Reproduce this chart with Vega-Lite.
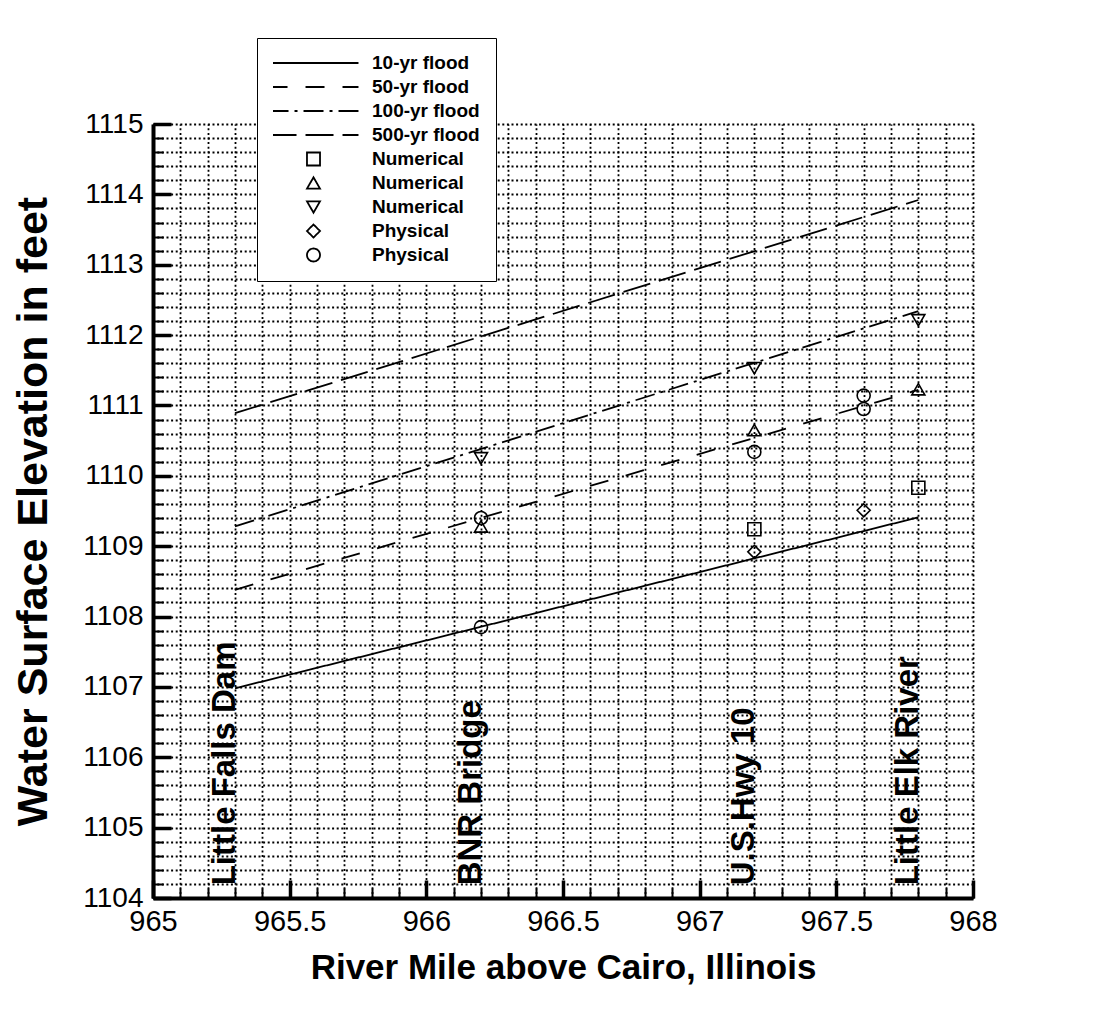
{
  "$schema": "https://vega.github.io/schema/vega-lite/v6.json",
  "width": 820,
  "height": 774,
  "autosize": {"type": "none"},
  "padding": {"left": 153, "top": 124, "right": 121, "bottom": 112},
  "background": "white",
  "config": {
    "view": {"stroke": null},
    "font": "Liberation Sans",
    "axis": {
      "labelFont": "Liberation Sans",
      "titleFont": "Liberation Sans",
      "labelColor": "black",
      "titleColor": "black",
      "tickColor": "black",
      "domainColor": "black",
      "labelFlush": false,
      "labelOverlap": false
    },
    "legend": {
      "orient": "none",
      "title": null,
      "strokeColor": "black",
      "fillColor": "white",
      "padding": 16,
      "labelFont": "Liberation Sans",
      "labelFontSize": 19,
      "labelFontWeight": "bold",
      "labelColor": "black",
      "symbolSize": 170,
      "symbolStrokeColor": "black",
      "symbolFillColor": "white",
      "symbolStrokeWidth": 1.8,
      "symbolOffset": 31,
      "labelOffset": 49,
      "clipHeight": 18,
      "rowPadding": 6
    }
  },
  "datasets": {
    "lines": [
      {"series": "10-yr flood", "mile": 965.3, "elev": 1106.98},
      {"series": "10-yr flood", "mile": 967.8, "elev": 1109.41},
      {"series": "50-yr flood", "mile": 965.3, "elev": 1108.38},
      {"series": "50-yr flood", "mile": 967.8, "elev": 1111.22},
      {"series": "100-yr flood", "mile": 965.3, "elev": 1109.28},
      {"series": "100-yr flood", "mile": 967.8, "elev": 1112.34},
      {"series": "500-yr flood", "mile": 965.3, "elev": 1110.89},
      {"series": "500-yr flood", "mile": 967.8, "elev": 1113.92}
    ],
    "points": [
      {"series": "Numerical|1", "mile": 967.2, "elev": 1109.24},
      {"series": "Numerical|1", "mile": 967.8, "elev": 1109.83},
      {"series": "Numerical|2", "mile": 966.2, "elev": 1109.28},
      {"series": "Numerical|2", "mile": 967.2, "elev": 1110.65},
      {"series": "Numerical|2", "mile": 967.8, "elev": 1111.23},
      {"series": "Numerical|3", "mile": 966.2, "elev": 1110.25},
      {"series": "Numerical|3", "mile": 967.2, "elev": 1111.53},
      {"series": "Numerical|3", "mile": 967.8, "elev": 1112.21},
      {"series": "Physical|1", "mile": 967.2, "elev": 1108.92},
      {"series": "Physical|1", "mile": 967.6, "elev": 1109.51},
      {"series": "Physical|2", "mile": 966.2, "elev": 1107.85},
      {"series": "Physical|2", "mile": 966.2, "elev": 1109.4},
      {"series": "Physical|2", "mile": 967.2, "elev": 1110.34},
      {"series": "Physical|2", "mile": 967.6, "elev": 1111.14},
      {"series": "Physical|2", "mile": 967.6, "elev": 1110.95}
    ],
    "sites": [
      {"site": "Little Falls Dam", "mile": 965.3, "elev": 1104.18},
      {"site": "BNR Bridge", "mile": 966.2, "elev": 1104.18},
      {"site": "U.S.Hwy 10", "mile": 967.2, "elev": 1104.18},
      {"site": "Little Elk River", "mile": 967.8, "elev": 1104.18}
    ]
  },
  "resolve": {"axis": {"x": "independent", "y": "independent"}},
  "layer": [
    {
      "data": {"name": "points"},
      "mark": {"type": "point", "filled": false, "color": "black", "strokeWidth": 1.6, "size": 170, "opacity": 1},
      "encoding": {
        "x": {
          "field": "mile", "type": "quantitative",
          "scale": {"domain": [965, 968], "nice": false, "zero": false},
          "axis": {
            "orient": "top", "offset": -774, "title": null, "labels": false, "domain": false,
            "ticks": true, "tickSize": 10, "tickWidth": 2,
            "grid": true, "gridColor": "black", "gridDash": [2, 2.6], "gridWidth": 1.8, "gridOpacity": 1,
            "values": [965,965.1,965.2,965.3,965.4,965.5,965.6,965.7,965.8,965.9,966,966.1,966.2,966.3,966.4,966.5,966.6,966.7,966.8,966.9,967,967.1,967.2,967.3,967.4,967.5,967.6,967.7,967.8,967.9,968]
          }
        },
        "y": {
          "field": "elev", "type": "quantitative",
          "scale": {"domain": [1104, 1115], "nice": false, "zero": false},
          "axis": {
            "orient": "right", "offset": -820, "title": null, "labels": false, "domain": false,
            "ticks": true, "tickSize": 10, "tickWidth": 2,
            "grid": true, "gridColor": "black", "gridDash": [2, 2.6], "gridWidth": 1.8, "gridOpacity": 1,
            "values": [1104,1104.2,1104.4,1104.6,1104.8,1105,1105.2,1105.4,1105.6,1105.8,1106,1106.2,1106.4,1106.6,1106.8,1107,1107.2,1107.4,1107.6,1107.8,1108,1108.2,1108.4,1108.6,1108.8,1109,1109.2,1109.4,1109.6,1109.8,1110,1110.2,1110.4,1110.6,1110.8,1111,1111.2,1111.4,1111.6,1111.8,1112,1112.2,1112.4,1112.6,1112.8,1113,1113.2,1113.4,1113.6,1113.8,1114,1114.2,1114.4,1114.6,1114.8,1115]
          }
        },
        "shape": {
          "field": "series", "type": "nominal",
          "scale": {
            "domain": ["10-yr flood", "50-yr flood", "100-yr flood", "500-yr flood", "Numerical|1", "Numerical|2", "Numerical|3", "Physical|1", "Physical|2"],
            "range": ["M-6.9,0H6.9", "M-6.9,0H6.9", "M-6.9,0H6.9", "M-6.9,0H6.9", "square", "triangle-up", "triangle-down", "diamond", "circle"]
          },
          "legend": {"orient": "none", "legendX": 104, "legendY": -86, "rowPadding": 5, "labelExpr": "split(datum.label, '|')[0]"}
        }
      }
    },
    {
      "data": {"name": "lines"},
      "mark": {"type": "line", "color": "black", "strokeWidth": 1.8},
      "encoding": {
        "x": {
          "field": "mile", "type": "quantitative",
          "scale": {"domain": [965, 968], "nice": false, "zero": false},
          "axis": {
            "orient": "bottom", "values": [965, 965.5, 966, 966.5, 967, 967.5, 968],
            "format": "~g", "grid": false, "ticks": false,
            "domainWidth": 4,
            "labelFontSize": 29, "labelPadding": 9,
            "title": "River Mile above Cairo, Illinois",
            "titleFontSize": 35, "titleFontWeight": "bold", "titlePadding": 14
          }
        },
        "y": {
          "field": "elev", "type": "quantitative",
          "scale": {"domain": [1104, 1115], "nice": false, "zero": false},
          "axis": {
            "orient": "left", "values": [1104,1105,1106,1107,1108,1109,1110,1111,1112,1113,1114,1115],
            "format": "d", "grid": false, "ticks": false,
            "domainWidth": 4,
            "labelFontSize": 28, "labelPadding": 10,
            "title": "Water Surface Elevation in feet",
            "titleFontSize": 43, "titleFontWeight": "bold", "titlePadding": 27
          }
        },
        "strokeDash": {
          "field": "series", "type": "nominal",
          "scale": {
            "domain": ["10-yr flood", "50-yr flood", "100-yr flood", "500-yr flood", "Numerical|1", "Numerical|2", "Numerical|3", "Physical|1", "Physical|2"],
            "range": [[1, 0], [19, 18], [20, 6, 3, 6], [28, 9], [1, 0], [1, 0], [1, 0], [1, 0], [1, 0]]
          },
          "legend": {"orient": "none", "legendX": 104, "legendY": -86, "rowPadding": 5, "labelExpr": "split(datum.label, '|')[0]"}
        }
      }
    },
    {
      "data": {"name": "sites"},
      "mark": {"type": "text", "angle": 270, "align": "left", "baseline": "alphabetic", "fontSize": 33, "fontWeight": "bold", "font": "Liberation Sans", "color": "black"},
      "encoding": {
        "x": {
          "field": "mile", "type": "quantitative",
          "axis": {"orient": "top", "offset": -774, "title": null, "labels": false, "domain": false, "grid": false,
                   "ticks": true, "tickSize": 18, "tickWidth": 3.5,
                   "values": [965, 965.5, 966, 966.5, 967, 967.5, 968]}
        },
        "y": {
          "field": "elev", "type": "quantitative",
          "axis": {"orient": "right", "offset": -820, "title": null, "labels": false, "domain": false, "grid": false,
                   "ticks": true, "tickSize": 18, "tickWidth": 3.5,
                   "values": [1104,1105,1106,1107,1108,1109,1110,1111,1112,1113,1114,1115]}
        },
        "text": {"field": "site", "type": "nominal"}
      }
    }
  ]
}
